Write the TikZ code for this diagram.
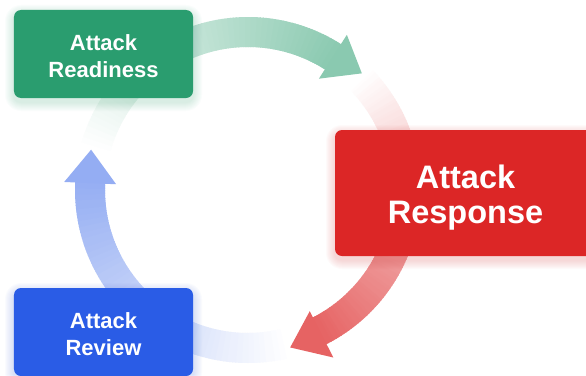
\documentclass[tikz,border=0pt]{standalone}
\usepackage{fontspec}
\setmainfont{Liberation Sans}
\definecolor{grn}{HTML}{2A9D6F}
\definecolor{rd}{HTML}{DC2626}
\definecolor{blu}{HTML}{2A5CE6}
\newcommand{\gradarc}[5]{%
  \foreach \k in {1,...,#5}{%
    \pgfmathsetmacro{\aa}{#2+(#3-#2)*(\k-1)/#5}%
    \pgfmathsetmacro{\bb}{#2+(#3-#2)*\k/#5-0.4}%
    \pgfmathtruncatemacro{\pp}{#4*(\k-0.5)/#5}%
    \draw[arcband, draw=#1!\pp!white] (\aa:158bp) arc[start angle=\aa, end angle=\bb, radius=158bp];
  }}
\newcommand{\glowbox}[6]{%
  \foreach \g in {1,...,9}{%
    \pgfmathsetmacro{\rr}{7+\g}%
    \fill[#1, opacity=#6, rounded corners=\rr bp] (#2-\g,#3-\g-4) rectangle (#4+\g,#5+\g-4);
  }}
\begin{document}
\begin{tikzpicture}[x=1bp,y=1bp,
  arcband/.style={line width=30bp},
  box/.style={rounded corners=7bp, inner sep=0pt},
  smallbox/.style={box, minimum width=179bp, minimum height=88bp},
  bigbox/.style={box, minimum width=261bp, minimum height=126bp},
  smalltxt/.style={text=white, align=center, inner sep=0pt, font=\fontsize{22bp}{26.5bp}\selectfont\bfseries},
  bigtxt/.style={text=white, align=center, inner sep=0pt, font=\fontsize{32.5bp}{35bp}\selectfont\bfseries}]
\useasboundingbox (0,0) rectangle (586,375);
\fill[white] (0,0) rectangle (586,375);
% gradient arcs
\begin{scope}[shift={(248,185)}]
  \gradarc{grn}{166}{57.5}{55}{110}
  \gradarc{rd}{45.7}{-63}{72}{110}
  \gradarc{blu}{-75}{-182.5}{50}{108}
  \fill[grn!55!white] (57.5:132bp) -- (57.5:184bp) -- (45.7:163bp) -- cycle;
  \fill[rd!72!white] (-63:136bp) -- (-63:188bp) -- (-75:163bp) -- cycle;
  \fill[blu!50!white] (177.5:132bp) -- (177.5:184bp) -- (165.6:162bp) -- cycle;
\end{scope}
% glows
\glowbox{grn}{14}{277}{193}{365}{0.02}
\glowbox{rd}{335}{119}{596}{245}{0.02}
\glowbox{blu}{14}{-1}{193}{87}{0.02}
% boxes
\node[smallbox, fill=grn] (ready) at (103.5,321) {};
\node[bigbox, fill=rd] (resp) at (465.5,182) {};
\node[smallbox, fill=blu] (review) at (103.5,43) {};
\node[smalltxt] (readytxt) at ([yshift=-2bp]ready.center) {Attack\\Readiness};
\node[bigtxt] (resptxt) at ([yshift=-5bp]resp.center) {Attack\\Response};
\node[smalltxt] (reviewtxt) at ([yshift=-2bp]review.center) {Attack\\Review};
\end{tikzpicture}
\end{document}
